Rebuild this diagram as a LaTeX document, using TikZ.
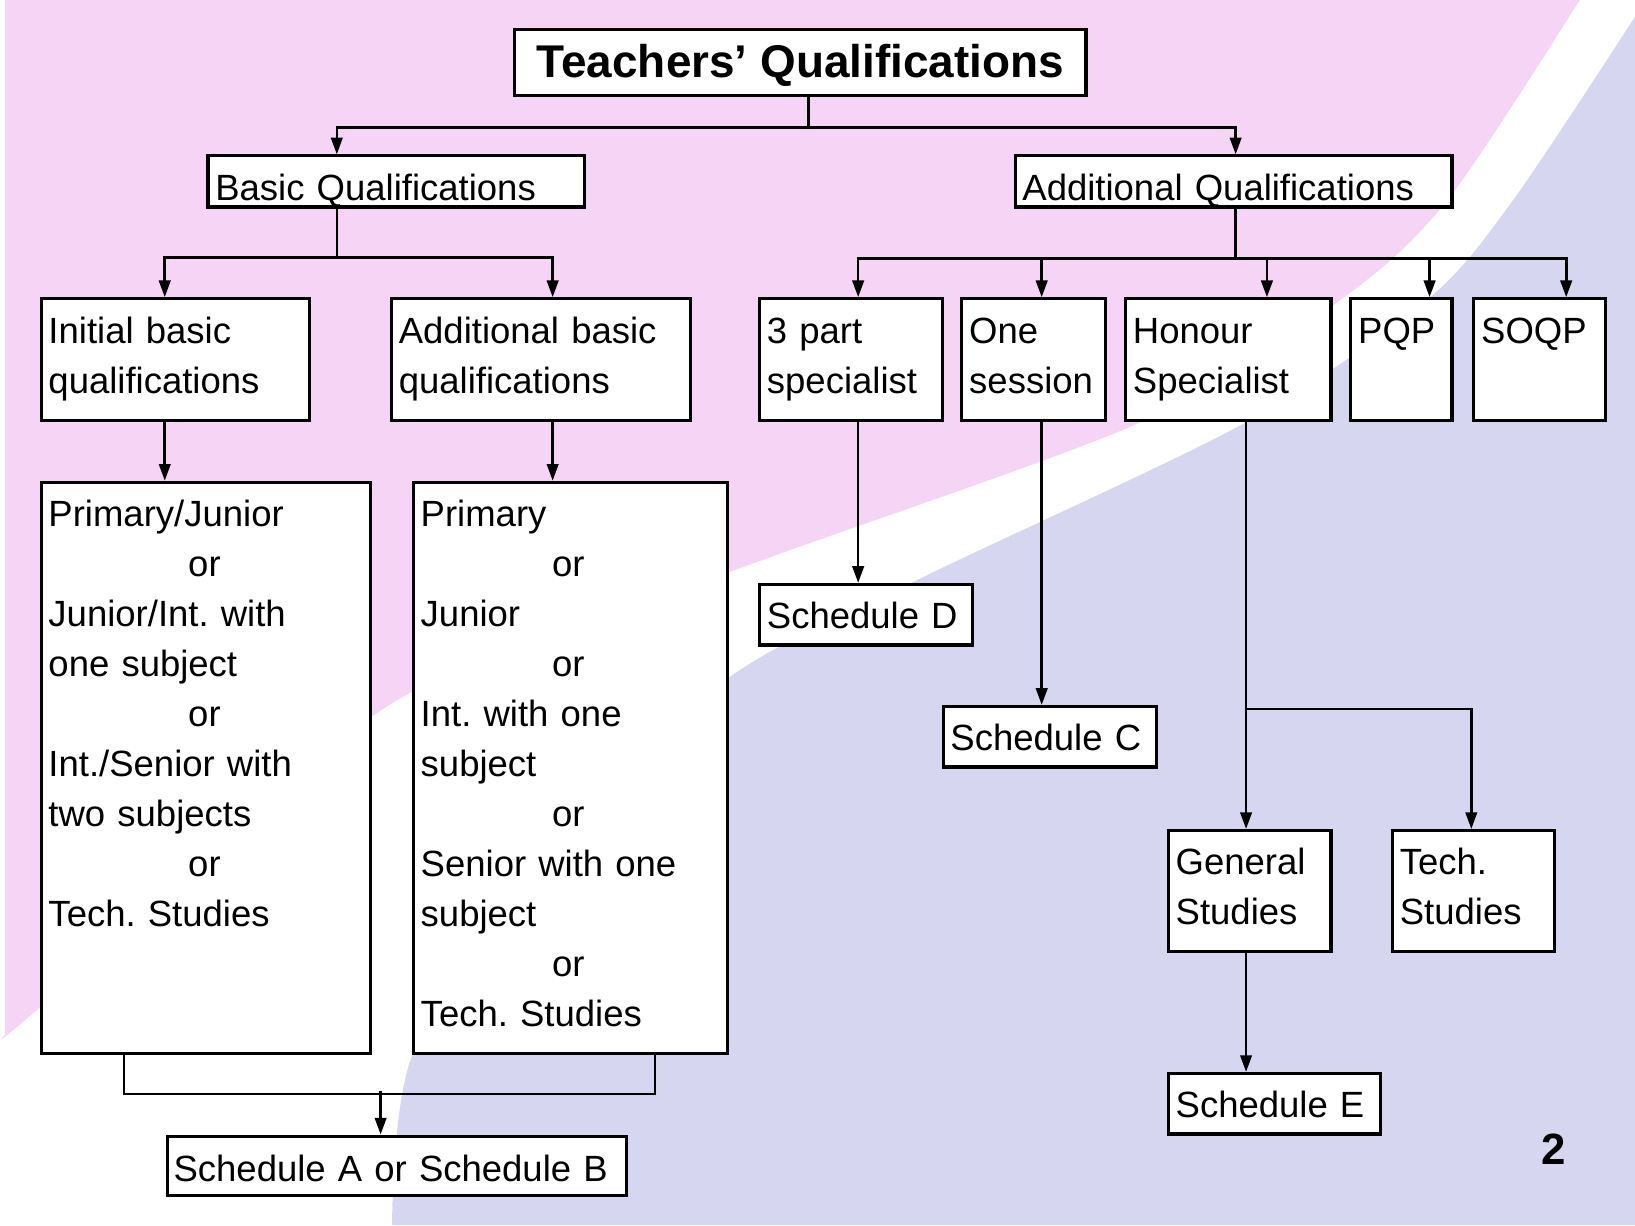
\documentclass[tikz,border=0pt]{standalone}
\usepackage{fontspec}
\setmainfont{Liberation Sans}
\usetikzlibrary{arrows.meta,calc}

\definecolor{bgpink}{RGB}{246,212,246}
\definecolor{bglav}{RGB}{214,214,240}

\newcommand{\boxfont}{\fontsize{35}{48}\selectfont\frenchspacing}
\newcommand{\titlefont}{\fontsize{44}{52}\selectfont\bfseries}

\tikzset{
  qbox/.style={draw, line width=3pt, fill=white, anchor=north west, align=left,
    inner xsep=7pt, inner ysep=0pt, font=\boxfont},
  tallbox/.style={qbox, execute at begin node={\rule{0pt}{32pt}},
    execute at end node={\rule[-16pt]{0pt}{16pt}}},
  flatbox/.style={qbox, text height=42pt, text depth=16pt},
  link/.style={line width=2.5pt},
  arr/.style={link, -{Triangle[length=16pt,width=11pt]}},
}

\begin{document}
\begin{tikzpicture}[x=1pt,y=-1pt]
    \useasboundingbox (0,0) rectangle (1568,1175);

    % background
    \fill[bgpink] (5,0) -- plot[smooth] coordinates {(1515,0) (1388,192) (1285,288) (1094,405) (696,550) (372,677) (35,969) (5,992)} -- cycle;
    \fill[bglav] plot[smooth] coordinates {(1568,16) (1451,192) (1368,288) (1193,406) (880,556) (696,652) (520,820) (396,1010) (376,1175)} -- (1568,1175) -- cycle;

    \node[qbox, minimum width=548pt, text height=46pt, text depth=17pt, font=\titlefont, align=center] (title) at (492,27) {Teachers’ Qualifications};

    \node[flatbox, text width=347pt, text height=43pt, text depth=6pt] (basic) at (198,148) {Basic Qualifications};
    \node[flatbox, text width=405pt, text height=43pt, text depth=6pt] (addq) at (972,148) {Additional Qualifications};

    \node[tallbox, text width=243pt, minimum height=117pt] (ini) at (38,285) {Initial basic\\qualifications};
    \node[tallbox, text width=273pt, minimum height=117pt] (adb) at (374,285) {Additional basic\\qualifications};
    \node[tallbox, text width=161pt, minimum height=117pt] (tps) at (727,285) {3 part\\specialist};
    \node[tallbox, text width=124pt, minimum height=117pt] (one) at (921,285) {One\\session};
    \node[tallbox, text width=183pt, minimum height=117pt] (hon) at (1078,285) {Honour\\Specialist};
    \node[tallbox, text width=83pt, minimum height=117pt] (pqp) at (1294,285) {PQP\\};
    \node[tallbox, text width=112pt, minimum height=117pt] (soqp) at (1412,285) {SOQP\\};

    \node[tallbox, text width=302pt, minimum height=548pt] (prj) at (38,461) {Primary/Junior\\\hspace*{134pt}or\\Junior/Int. with\\one subject\\\hspace*{134pt}or\\Int./Senior with\\two subjects\\\hspace*{134pt}or\\Tech. Studies\\~\\};
    \node[tallbox, text width=287pt, minimum height=548pt] (pri) at (395,461) {Primary\\\hspace*{126pt}or\\Junior\\\hspace*{126pt}or\\Int. with one\\subject\\\hspace*{126pt}or\\Senior with one\\subject\\\hspace*{126pt}or\\Tech. Studies};
    \node[flatbox, inner xsep=6pt, text width=428pt, text height=44pt, text depth=13pt] (schab) at (159,1088) {Schedule A or Schedule B};

    \node[flatbox, text width=190pt] (schd) at (727,559) {Schedule D};
    \node[flatbox, text width=191pt] (schc) at (903,676) {Schedule C};
    \node[tallbox, text width=142pt, minimum height=116pt] (gen) at (1119,795) {General\\Studies};
    \node[tallbox, text width=141pt, minimum height=116pt] (tech) at (1334,795) {Tech.\\Studies};
    \node[flatbox, text width=189pt] (sche) at (1119,1028) {Schedule E};

    \node[font=\fontsize{42}{48}\selectfont\bfseries] (pagenum) at (1490,1102) {2};

    \draw[link] ([xshift=8pt]title.south) -- ++(0,29) coordinate (tq);
    \draw[arr] (tq) -| ([xshift=125pt]basic.north west);
    \draw[arr] (tq) -| ([xshift=213pt]addq.north west);

    \draw[link] ([xshift=125pt]basic.south west) -- ++(0,47) coordinate (bq);
    \draw[arr] (bq) -| ([xshift=120pt]ini.north west);
    \draw[arr] (bq) -| ([xshift=156pt]adb.north west);
    \draw[arr] ([xshift=120pt]ini.south west) -- ([xshift=120pt]prj.north west);
    \draw[arr] ([xshift=156pt]adb.south west) -- ([xshift=135pt]pri.north west);
    \draw[link] ([xshift=81pt]prj.south west) -- ++(0,37) -| ([xshift=233pt]pri.south west);
    \coordinate (abjoin) at ($(schab.north west)+(206,-42)$);
    \draw[arr] (abjoin) -- (abjoin |- schab.north);

    \draw[link] ([xshift=213pt]addq.south west) -- ++(0,48) coordinate (aq);
    \draw[arr] (aq) -| ([xshift=96pt]tps.north west);
    \draw[arr] (aq) -| ([xshift=78pt]one.north west);
    \draw[arr] (aq) -| ([xshift=137pt]hon.north west);
    \draw[arr] (aq) -| ([xshift=77pt]pqp.north west);
    \draw[arr] (aq) -| ([xshift=90pt]soqp.north west);

    \draw[arr] ([xshift=96pt]tps.south west) -- ([xshift=96pt]schd.north west);
    \draw[arr] ([xshift=78pt]one.south west) -- ([xshift=96pt]schc.north west);
    \draw[arr] ([xshift=117pt]hon.south west) -- ([xshift=76pt]gen.north west);
    \coordinate (hsplit) at ($(hon.south west)+(117,275)$);
    \draw[arr] (hsplit) -| ([xshift=77pt]tech.north west);
    \draw[arr] ([xshift=76pt]gen.south west) -- ([xshift=76pt]sche.north west);
\end{tikzpicture}
\end{document}
